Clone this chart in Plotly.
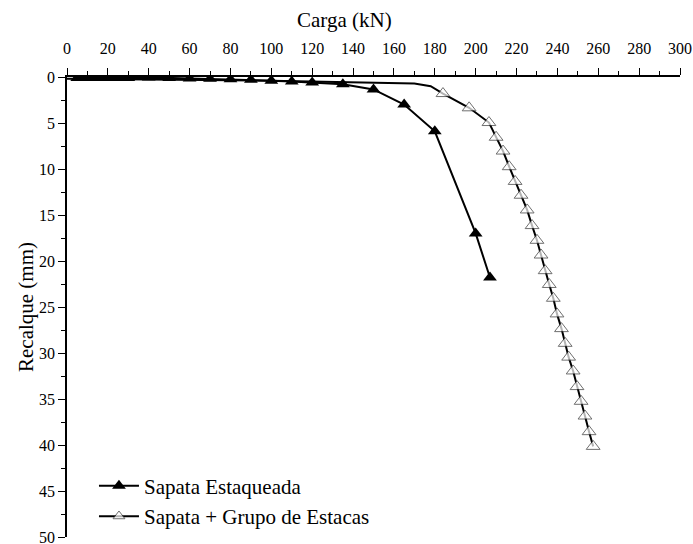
import plotly.graph_objects as go

# Sapata Estaqueada (filled triangles)
carga_se = [5, 10, 15, 20, 25, 30, 40, 50, 60, 70, 80, 90, 100, 110, 120, 135, 150, 165, 180, 200, 207]
recalque_se = [0.1, 0.1, 0.1, 0.1, 0.1, 0.1, 0.05, 0.1, 0.15, 0.2, 0.25, 0.3, 0.4, 0.5, 0.6, 0.8, 1.35, 3.0, 5.9, 17.0, 21.8]

# Sapata + Grupo de Estacas (open triangles); first points are line-only
carga_sg = [0, 100, 170, 178, 184, 196.8, 206.5, 210, 213.4, 216.4, 219.3, 222.2, 225.2, 227.6, 230.0,
            232.0, 234.0, 236.0, 238.0, 239.8, 242.0, 243.8, 245.5, 247.7, 249.6, 251.6, 253.5, 255.5, 257.5]
recalque_sg = [0.2, 0.4, 0.7, 1.0, 1.8, 3.35, 4.95, 6.55, 8.05, 9.75, 11.35, 12.85, 14.45, 16.15, 17.75,
               19.35, 21.05, 22.55, 24.05, 25.75, 27.35, 28.95, 30.45, 31.95, 33.65, 35.25, 36.85, 38.55, 40.15]
marcador_sg = [False, False, False, False] + [True] * 25

FONT = '"Liberation Serif", "Times New Roman", "DejaVu Serif", serif'

fig = go.Figure()
fig.add_trace(go.Scatter(
    x=carga_se, y=recalque_se, mode="lines+markers", name="Sapata Estaqueada",
    line=dict(color="black", width=2),
    marker=dict(symbol="triangle-up", size=12, color="black"),
))
fig.add_trace(go.Scatter(
    x=carga_sg, y=recalque_sg, mode="lines+markers", name="Sapata + Grupo de Estacas",
    line=dict(color="black", width=2),
    marker=dict(symbol="triangle-up", size=[12 if m else 0 for m in marcador_sg],
                color="white", line=dict(color="#333333", width=1)),
))

fig.update_layout(
    width=693, height=544,
    margin=dict(l=67, r=13, t=77, b=7, autoexpand=False),
    paper_bgcolor="white", plot_bgcolor="white",
    font=dict(family=FONT, color="black", size=16),
    showlegend=True,
    legend=dict(x=0.044, y=0.155, xanchor="left", yanchor="top",
                bgcolor="rgba(0,0,0,0)", font=dict(size=21, family=FONT),
                itemwidth=40, tracegroupgap=0),
    annotations=[dict(text="Carga (kN)", xref="paper", yref="paper",
                      x=0.452, y=1 + 57 / 460, xanchor="center", yanchor="middle",
                      showarrow=False, font=dict(size=21, family=FONT))],
    xaxis=dict(
        side="top", range=[0, 300], dtick=20, tick0=0, automargin=False,
        showline=True, linecolor="black", linewidth=1.5,
        ticks="outside", ticklen=7, tickwidth=1.2, tickcolor="black",
        minor=dict(ticks="outside", ticklen=4, dtick=10, tickcolor="black", tickwidth=1.2),
        showgrid=False, zeroline=False, tickfont=dict(size=16, family=FONT),
        ticklabelstandoff=8, ticklabeloverflow="allow",
    ),
    yaxis=dict(
        title=dict(text="Recalque (mm)", font=dict(size=21, family=FONT), standoff=0),
        range=[50, 0], dtick=5, tick0=0, automargin=False,
        showline=True, linecolor="black", linewidth=1.5,
        ticks="outside", ticklen=7, tickwidth=1.2, tickcolor="black",
        minor=dict(ticks="outside", ticklen=4, dtick=2.5, tickcolor="black", tickwidth=1.2),
        showgrid=False, zeroline=False, tickfont=dict(size=16, family=FONT),
        ticklabeloverflow="allow",
    ),
)

fig.write_html("out.html", config={"displayModeBar": False},
               post_script="document.body.style.margin='0';")
